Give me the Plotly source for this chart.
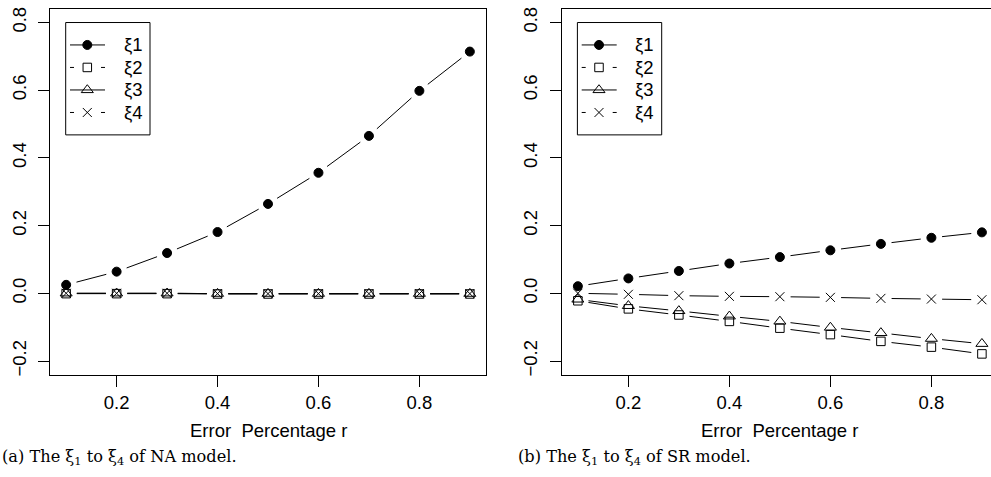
import math
import plotly.graph_objects as go

# ---------------- data ----------------
r = [0.1, 0.2, 0.3, 0.4, 0.5, 0.6, 0.7, 0.8, 0.9]

na_xi1 = [0.025, 0.064, 0.119, 0.181, 0.264, 0.356, 0.465, 0.598, 0.714]
na_xi2 = [-0.001, -0.001, -0.001, -0.002, -0.002, -0.002, -0.002, -0.002, -0.002]
na_xi3 = [0.000, 0.000, 0.000, -0.001, -0.001, -0.001, -0.001, -0.001, -0.001]
na_xi4 = [0.000, 0.000, 0.000, -0.001, -0.001, -0.001, -0.001, -0.001, -0.001]

sr_xi1 = [0.021, 0.044, 0.066, 0.088, 0.107, 0.127, 0.146, 0.164, 0.180]
sr_xi2 = [-0.022, -0.046, -0.064, -0.083, -0.103, -0.122, -0.142, -0.159, -0.179]
sr_xi3 = [-0.018, -0.037, -0.052, -0.068, -0.083, -0.101, -0.117, -0.134, -0.149]
sr_xi4 = [0.000, -0.003, -0.007, -0.009, -0.010, -0.012, -0.015, -0.017, -0.019]

series_names = ["ξ1", "ξ2", "ξ3", "ξ4"]
x_ticks = [0.2, 0.4, 0.6, 0.8]
y_ticks = [-0.2, 0.0, 0.2, 0.4, 0.6, 0.8]
x_title = "Error\u00a0 Percentage r"
captions = ["(a) The ξ<sub>1</sub> to ξ<sub>4</sub> of NA model.",
            "(b) The ξ<sub>1</sub> to ξ<sub>4</sub> of SR model."]

# ---------------- layout geometry (pixels) ----------------
W, H = 991, 477
left_dom = [50 / W, 486 / W]
right_dom = [561.7 / W, 1.0]
ydom = [101.3 / H, 470 / H]
xr_left = [0.068, 0.932]
xr_right = [0.068, 0.918]
yr = [-0.24, 0.84]

symbols = ["circle", "square-open", "triangle-up-open", "x-thin-open"]
sizes = [9, 8.5, 10.5, 9]
legend_dash = ["solid", "4px,27px", "solid", "4px,27px"]
GAP = 10.7

# legend box geometry (pixels from top-left of page)
LEG_LEFTS = [65.7, 577.4]
LEG_TOP, LEG_BOTTOM, LEG_W = 20.7, 134.0, 84.3
LEG_ROW0, LEG_ROWSTEP = 43.3, 22.7
LEG_LINE = (4.3, 39.3)
LEG_MARK = 21.6
LEG_TEXT = 56.0


def gapped(x, y, xdom, xr):
    """R type='b' style: segments between points with gaps around points."""
    sx = (xdom[1] - xdom[0]) * W / (xr[1] - xr[0])
    sy = (ydom[1] - ydom[0]) * H / (yr[1] - yr[0])
    xs, ys = [], []
    for i in range(len(x) - 1):
        dx = (x[i + 1] - x[i]) * sx
        dy = (y[i + 1] - y[i]) * sy
        L = math.hypot(dx, dy)
        if L <= 2 * GAP:
            continue
        f = GAP / L
        xs += [x[i] + (x[i + 1] - x[i]) * f, x[i + 1] - (x[i + 1] - x[i]) * f, None]
        ys += [y[i] + (y[i + 1] - y[i]) * f, y[i + 1] - (y[i + 1] - y[i]) * f, None]
    return xs, ys


fig = go.Figure()

panels = [
    ("x", "y", left_dom, xr_left, [na_xi1, na_xi2, na_xi3, na_xi4]),
    ("x2", "y2", right_dom, xr_right, [sr_xi1, sr_xi2, sr_xi3, sr_xi4]),
]

for xa, ya, xdom, xr, data in panels:
    for k, vals in enumerate(data):
        lx, ly = gapped(r, vals, xdom, xr)
        fig.add_trace(go.Scatter(x=lx, y=ly, xaxis=xa, yaxis=ya, mode="lines",
                                 line=dict(color="black", width=1),
                                 showlegend=False, hoverinfo="skip"))
        fig.add_trace(go.Scatter(x=r, y=vals, xaxis=xa, yaxis=ya, mode="markers",
                                 name=series_names[k],
                                 marker=dict(symbol=symbols[k], size=sizes[k], color="black",
                                             line=dict(color="black", width=1)),
                                 showlegend=False))

# ---------------- hand-drawn R-style legends on a pixel overlay axis ----------------
legfont = dict(family="Liberation Sans, Arial, sans-serif", size=18.5, color="black")
for left in LEG_LEFTS:
    fig.add_shape(type="rect", xref="x3", yref="y3", x0=left, x1=left + LEG_W,
                  y0=LEG_TOP, y1=LEG_BOTTOM, line=dict(color="black", width=1),
                  fillcolor="rgba(0,0,0,0)", layer="below")
    for k, name in enumerate(series_names):
        yk = LEG_ROW0 + LEG_ROWSTEP * k
        fig.add_trace(go.Scatter(x=[left + LEG_LINE[0], left + LEG_LINE[1]], y=[yk, yk],
                                 xaxis="x3", yaxis="y3", mode="lines",
                                 line=dict(color="black", width=1, dash=legend_dash[k]),
                                 showlegend=False, hoverinfo="skip"))
        fig.add_trace(go.Scatter(x=[left + LEG_MARK], y=[yk], xaxis="x3", yaxis="y3",
                                 mode="markers", showlegend=False, hoverinfo="skip",
                                 marker=dict(symbol=symbols[k], size=sizes[k], color="black",
                                             line=dict(color="black", width=1))))
        fig.add_annotation(x=left + LEG_TEXT, y=yk, xref="x3", yref="y3", text=name,
                           showarrow=False, font=legfont, xanchor="left", yanchor="middle")

tickfont = dict(family="Liberation Sans, Arial, sans-serif", size=18.5, color="black")
axcommon = dict(showgrid=False, zeroline=False, showline=True, linecolor="black",
                linewidth=1, ticks="outside", ticklen=11, tickwidth=1, tickcolor="black",
                tickfont=tickfont, tickmode="array")

fig.update_layout(
    width=W, height=H,
    margin=dict(l=0, r=0, t=0, b=0),
    paper_bgcolor="white", plot_bgcolor="rgba(0,0,0,0)",
    showlegend=False,
    xaxis=dict(domain=left_dom, range=xr_left, anchor="y", mirror=True,
               ticklabelstandoff=0,
               tickvals=x_ticks, ticktext=[f"{v:.1f}" for v in x_ticks], **axcommon),
    yaxis=dict(domain=ydom, range=yr, anchor="x", mirror=True, tickangle=-90,
               ticklabelstandoff=5,
               tickvals=y_ticks, ticktext=[f"{v:.1f}".replace("-", "−") for v in y_ticks],
               **axcommon),
    xaxis2=dict(domain=right_dom, range=xr_right, anchor="y2", mirror=True,
                ticklabelstandoff=0,
                tickvals=x_ticks, ticktext=[f"{v:.1f}" for v in x_ticks], **axcommon),
    yaxis2=dict(domain=ydom, range=yr, anchor="x2", mirror=False, tickangle=-90,
                ticklabelstandoff=5,
                tickvals=y_ticks, ticktext=[f"{v:.1f}".replace("-", "−") for v in y_ticks],
                **axcommon),
    xaxis3=dict(domain=[0, 1], range=[0, W], anchor="y3", visible=False, fixedrange=True),
    yaxis3=dict(domain=[0, 1], range=[H, 0], anchor="x3", visible=False, fixedrange=True),
)

titlefont = dict(family="Liberation Sans, Arial, sans-serif", size=18.5, color="black")
capfont = dict(family="DejaVu Serif, Liberation Serif, serif", size=16.2, color="black")
fig.add_annotation(x=268 / W, y=1 - 432 / H, xref="paper", yref="paper", text=x_title,
                   showarrow=False, font=titlefont, xanchor="center", yanchor="middle")
fig.add_annotation(x=779.7 / W, y=1 - 432 / H, xref="paper", yref="paper", text=x_title,
                   showarrow=False, font=titlefont, xanchor="center", yanchor="middle")
fig.add_annotation(x=0 / W, y=1 - 459 / H, xref="paper", yref="paper", text=captions[0],
                   showarrow=False, font=capfont, xanchor="left", yanchor="middle")
fig.add_annotation(x=516 / W, y=1 - 459 / H, xref="paper", yref="paper", text=captions[1],
                   showarrow=False, font=capfont, xanchor="left", yanchor="middle")

fig.write_html("out.html", config={"displayModeBar": False},
               post_script="document.body.style.margin='0px';")
